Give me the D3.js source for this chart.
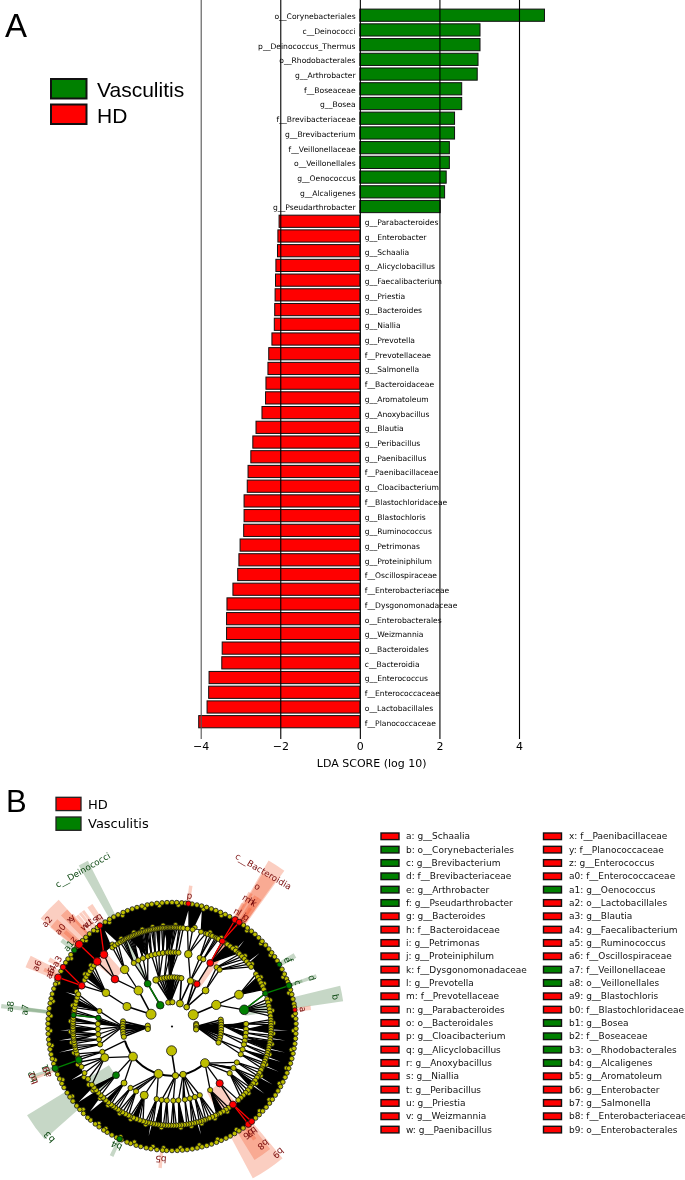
<!DOCTYPE html>
<html><head><meta charset="utf-8">
<script src="https://d3js.org/d3.v7.min.js"></script>
<style>html,body{margin:0;padding:0;background:#fff}svg{display:block;filter:blur(.3px)}text{font-family:"DejaVu Sans"}</style>
</head><body><svg id="c" width="685" height="1180"></svg>
<script>
// ---------- panel A data ----------
const vasculitisTaxa=["o__Corynebacteriales","c__Deinococci","p__Deinococcus_Thermus","o__Rhodobacterales","g__Arthrobacter","f__Boseaceae","g__Bosea","f__Brevibacteriaceae","g__Brevibacterium","f__Veillonellaceae","o__Veillonellales","g__Oenococcus","g__Alcaligenes","g__Pseudarthrobacter"];
const vasculitisScores=[4.64,3.02,3.02,2.97,2.95,2.56,2.56,2.38,2.38,2.25,2.25,2.17,2.13,2.02];
const hdTaxa=["g__Parabacteroides","g__Enterobacter","g__Schaalia","g__Alicyclobacillus","g__Faecalibacterium","g__Priestia","g__Bacteroides","g__Niallia","g__Prevotella","f__Prevotellaceae","g__Salmonella","f__Bacteroidaceae","g__Aromatoleum","g__Anoxybacillus","g__Blautia","g__Peribacillus","g__Paenibacillus","f__Paenibacillaceae","g__Cloacibacterium","f__Blastochloridaceae","g__Blastochloris","g__Ruminococcus","g__Petrimonas","g__Proteiniphilum","f__Oscillospiraceae","f__Enterobacteriaceae","f__Dysgonomonadaceae","o__Enterobacterales","g__Weizmannia","o__Bacteroidales","c__Bacteroidia","g__Enterococcus","f__Enterococcaceae","o__Lactobacillales","f__Planococcaceae"];
const hdScores=[-2.03,-2.06,-2.07,-2.11,-2.12,-2.13,-2.14,-2.15,-2.21,-2.29,-2.31,-2.36,-2.37,-2.46,-2.61,-2.69,-2.74,-2.81,-2.83,-2.91,-2.91,-2.92,-3.01,-3.04,-3.07,-3.19,-3.34,-3.35,-3.35,-3.46,-3.47,-3.79,-3.80,-3.84,-4.05];
const ldaTicks=[-4,-2,0,2,4];
// ---------- panel B data: legend ----------
const cladeLegendLeft=[["a: g__Schaalia","H"],["b: o__Corynebacteriales","V"],["c: g__Brevibacterium","V"],["d: f__Brevibacteriaceae","V"],["e: g__Arthrobacter","V"],["f: g__Pseudarthrobacter","V"],["g: g__Bacteroides","H"],["h: f__Bacteroidaceae","H"],["i: g__Petrimonas","H"],["j: g__Proteiniphilum","H"],["k: f__Dysgonomonadaceae","H"],["l: g__Prevotella","H"],["m: f__Prevotellaceae","H"],["n: g__Parabacteroides","H"],["o: o__Bacteroidales","H"],["p: g__Cloacibacterium","H"],["q: g__Alicyclobacillus","H"],["r: g__Anoxybacillus","H"],["s: g__Niallia","H"],["t: g__Peribacillus","H"],["u: g__Priestia","H"],["v: g__Weizmannia","H"],["w: g__Paenibacillus","H"]];
const cladeLegendRight=[["x: f__Paenibacillaceae","H"],["y: f__Planococcaceae","H"],["z: g__Enterococcus","H"],["a0: f__Enterococcaceae","H"],["a1: g__Oenococcus","V"],["a2: o__Lactobacillales","H"],["a3: g__Blautia","H"],["a4: g__Faecalibacterium","H"],["a5: g__Ruminococcus","H"],["a6: f__Oscillospiraceae","H"],["a7: f__Veillonellaceae","V"],["a8: o__Veillonellales","V"],["a9: g__Blastochloris","H"],["b0: f__Blastochloridaceae","H"],["b1: g__Bosea","V"],["b2: f__Boseaceae","V"],["b3: o__Rhodobacterales","V"],["b4: g__Alcaligenes","V"],["b5: g__Aromatoleum","H"],["b6: g__Enterobacter","H"],["b7: g__Salmonella","H"],["b8: f__Enterobacteriaceae","H"],["b9: o__Enterobacterales","H"]];
// ---------- panel B data: cladogram, angles in degrees clockwise from north ----------
const ringLevels=[0,1,2,3,4];
const phylumClass=[[61,[64]],[-59.6,[-66,-43]],[-29,[-29.6]],[-92,[-84,-87,-90,-93,-96,-99,-102]],[-88,[]],[-96,[]],[181,[176]],[-4,[-19,-15,-12,-9,-6,-3,0,3,6,9]],[-9,[]],[1,[]],[19,[22,11]],[37,[30.4,43,26]],[90,[82,85,88,91,94,97,100,103,106,109]],[84,[]],[87,[]],[94,[]],[97,[]]];
const classOrder=[[-66,[-63]],[-43,[-50.3,-39.7]],[-29.6,[-31,-27,-23,-19]],[-15,[-16,-13,-10,-7]],[-9,[-4,-1]],[-3,[-3,-1,1,3,5]],[22,[12.7,22,25]],[30.4,[31]],[43,[37,40]],[64,[64.6,77]],[88,[88,92,95,98]],[97,[101,104]],[106,[108,112]],[-90,[-78,-83.3,-88,-92,-96,-100,-104]],[-107,[-110]],[-127.6,[-114.8,-131,-139.7]],[-164,[-146,-151,-158,-168]],[176,[-172,-176,179]],[167,[175,170,166,162,158]],[138,[149,140,129,124,119]]];
const orderFamily=[[-63,[-65.7,-62,-60,-58,-56,-54,-52]],[-50.3,[-49,-43.4]],[-39.7,[-37,-35,-33]],[-31,[-31.5,-30,-29,-28]],[-27,[-27,-26,-25,-24,-23]],[-23,[-22,-21,-20]],[-19,[-19,-18,-17,-16]],[-16,[-15,-14,-13]],[-13,[-12,-11,-10]],[-10,[-9,-8,-7]],[-7,[-6,-5,-4]],[-4,[-3,-2.2,-1.4,-.6,.2]],[-1,[1,2,3]],[3,[4,5]],[5,[6.5]],[12.7,[9,12,17,20]],[22,[21,23,24]],[25,[26,27,28]],[31,[30.5,32,34,36,38,40,42]],[37,[43,45,47]],[40,[49,51,53]],[64.6,[58,60,62,64,66,68]],[77,[70.5,74,76,78,80,82,84]],[88,[86,87.5,89]],[92,[90.5,92,93.5]],[95,[95,96.5]],[98,[98,99.5,101]],[101,[102.5,104]],[104,[105.5,107]],[108,[108.5,110]],[112,[111.5,113,115]],[119,[116,118,120]],[124,[121,123,125,127]],[129,[128,130,132,134,136]],[140,[142,138]],[149,[145,147,149,151,153]],[158,[154,156,158,160]],[162,[161,162.5,164]],[166,[165.5,167,168.5]],[170,[170,171.5]],[175,[173,174.5,176]],[179,[177.5,179,180.5]],[-176,[-178,-176.5,-175]],[-172,[-173.5,-172,-170.5]],[-168,[-169,-167.5,-166,-164.5]],[-158,[-163,-161,-159,-157,-155]],[-151,[-154,-152,-150,-148]],[-146,[-147,-145,-143.5]],[-139.7,[-142,-140,-138,-136]],[-131,[-134,-132,-130,-128]],[-114.8,[-126,-122,-118,-114,-111]],[-110,[-109.7,-108,-106]],[-104,[-104,-102.5,-101]],[-100,[-100,-98.5,-97]],[-96,[-96,-94.5,-93]],[-92,[-92,-90.5,-89]],[-88,[-88,-86.5,-85]],[-83.3,[-83.4,-82,-80.5]],[-78,[-79,-77,-75,-73,-71]]];
const genusAngles=[-180,-177.5,-175.6,-173,-170.2,-168,-165.4,-163.2,-160.5,-158.7,-156,-153.4,-151,-148.5,-146.6,-144,-141.8,-139,-137.2,-134.5,-132,-129.8,-127,-124.6,-122.3,-119.5,-117.4,-115,-112.7,-110.6,-107.5,-105.1,-103,-100.6,-98.2,-96,-93.4,-91,-88.7,-86.5,-84,-81.6,-79.2,-77,-74.8,-72.3,-70,-68,-63.5,-59,-57,-54.6,-50,-46.2,-44,-41.7,-39.2,-37,-32.6,-30.2,-28,-25.8,-23.2,-21,-18.7,-16.4,-14,-11.5,-9.4,-7,-4.6,-2.3,0,2.2,4.5,6.3,9.3,11.6,13.8,16.2,18.5,20.7,23,25.4,27.7,35.2,37.4,39.8,42,44.3,46.6,49,51.3,53.5,55.8,58,62.5,65,67.4,69,72.8,75,77.2,79.5,81,84,86.4,88.7,91,93.3,95.6,98,100.2,102.6,105,107.3,109.7,112,114.2,116.6,119,121.3,123.6,126,128.2,130.6,133,135.3,137.6,145,147.3,149.7,152,154.2,156.6,159,161.4,163.7,166,168.3,170.6,173,175.2,177.6];
// nodes slightly inside the rings, where the picture shows staggered columns
const staggerGenus=[-176,-171,-162,-155,-147,-143,-133,-125,-116,-106,-99,-92,-85,-78,-69,-56,-45,-38,-31,-24,-13,-6,3,15,24,38,47,54,66,74,85,92,101,110,118,127,134,148,158,167,176];
const staggerFamily=[-174,-165,-156,-149,-141,-135,-129,-125,-120,-112,-105,-99,-93,-87,-78,-70,-59,-53,-36,-30,-22,-17,-11,-5,2,13,22,29,39,46,52,61,65,75,81,88,94,100,106,112,119,124,131,147,155,163,169,175];
// filled fans: [parent level, parent angle, child angle from, child angle to]
const solidFans=[[0,-4,-8,4],[0,-90,-93,-87],[0,90,86,100],[1,-1,-3,3],[1,90,86,92],[1,-90,-88,-84],[1,88,94,98],[1,-164,-150,-148],[1,138,123,126],[1,167,170,172],[2,-2,-5,1],[2,-20,-26,-18],[2,31,34,42],[2,64.6,60,68],[2,92,88,94],[2,100,98,104],[2,124,124,128],[2,149,149,153],[2,-158,-160,-156],[2,-172,-174,-170],[2,175,173,176],[2,-131,-130,-127],[2,-139.7,-141,-138],[2,-92,-94,-90],[2,-88,-87,-85],[2,-96,-99,-97],[2,-63,-60,-55],[2,-78,-78,-74],[2,108,107,110],[2,-19,-16,-14],[2,-10,-9,-7]];
// [level, angle, node radius, colour key]
const markedNodes=[[0,61,5,"Y"],[0,-59.6,5,"Y"],[0,181,5,"Y"],[0,-29,3.8,"G"],[0,19,3.5,"Y"],[0,37,2.8,"Y"],
[1,-66,4,"Y"],[1,-43,4.4,"Y"],[1,-29.6,3.4,"G"],[1,-19,3.2,"Y"],[1,22,3.2,"Y"],[1,30.4,3.2,"R"],[1,43,3.4,"Y"],[1,64,4.6,"Y"],[1,-127.6,4.4,"Y"],[1,-164,4.4,"Y"],[1,176,3.2,"Y"],[1,167,3.2,"Y"],[1,138,4.4,"Y"],
[2,-63,3.8,"Y"],[2,-39.7,4.2,"Y"],[2,-50.3,3.8,"R"],[2,-114.8,4,"Y"],[2,-131,3.4,"G"],[2,-139.7,3,"Y"],[2,-158,4,"Y"],[2,12.7,3.8,"Y"],[2,31,3.4,"R"],[2,64.6,4.4,"Y"],[2,77,4.8,"G"],[2,-83.3,2.6,"G"],[2,140,3.6,"R"],
[3,-49,3.9,"R"],[3,-43.4,3.9,"R"],[3,-65.7,3.4,"R"],[3,30.5,3,"R"],[3,70.5,2.7,"G"],[3,-83.4,2.6,"G"],[3,-109.7,3.4,"G"],[3,142,3.5,"R"],
[4,-48.5,3.9,"R"],[4,-66.7,3.5,"R"],[4,-61.4,2.8,"R"],[4,-52,2.7,"G"],[4,-35.5,2.8,"R"],[4,7.6,2.6,"R"],[4,30.6,3.2,"R"],[4,32.8,3,"R"],[4,70.7,3,"G"],[4,82.3,2.2,"R"],[4,-109.7,3.2,"G"],[4,-155,2.8,"G"],[4,142,3.2,"R"],[4,140,3,"R"],[4,60,2.4,"G"]];
// [level from, angle from, level to, angle to, colour key]
const cladeLinks=[[0,-29,1,-29.6,"G"],[2,77,3,70.5,"G"],[3,70.5,4,70.7,"G"],[2,-83.3,3,-83.4,"G"],[3,-109.7,4,-109.7,"G"],[3,-49,4,-48.5,"R"],[3,-65.7,4,-66.7,"R"],[3,-65.7,4,-61.4,"R"],[3,-43.4,4,-35.5,"R"],[3,30.5,4,30.6,"R"],[3,30.5,4,32.8,"R"],[2,31,3,30.5,"R"],[3,142,4,142,"R"],[3,142,4,140,"R"]];
// [a, half width, inner radius, outer radius, colour key]
const cladeShades=[[-28.5,1.6,49,186,"G"],[79,2.6,74,173,"G"],[-83.2,.7,74,172,"G"],[-83.4,.8,99,150,"G"],[-109.7,.6,99,150,"G"],[-109,.5,124,136,"G"],[-126.5,5,74,170,"G"],[-155,.8,124,143,"G"],[-52,.9,124,140,"G"],[70.7,.7,99,153,"G"],[70.7,.6,124,138,"G"],[60,1.1,124,142,"G"],
[-46.2,4.4,74,170,"R"],[-48.9,2,99,157,"R"],[-43.4,1.6,99,157,"R"],[-42,.8,99,150,"R"],[-48.5,.8,124,143,"R"],[-40.5,.6,124,146,"R"],[-39,.6,124,146,"R"],[-37.6,.6,124,146,"R"],[-34.8,.6,124,146,"R"],[-33.6,.6,124,146,"R"],[-65.7,2.3,99,158,"R"],[-61.4,.9,124,140,"R"],[-66,.8,124,140,"R"],[-110.6,.5,99,150,"R"],[7.6,.7,124,142,"R"],[33,2.8,49,192,"R"],[33,2.4,74,178,"R"],[30.5,.9,99,155,"R"],[33,.9,99,155,"R"],[34.5,.8,99,155,"R"],[30,.7,124,142,"R"],[33.6,.7,124,142,"R"],[82.3,.9,124,140,"R"],[146,6,74,172,"R"],[144.8,3.5,99,157,"R"],[143.8,.8,124,140,"R"],[184.8,.7,124,142,"R"]];
// [text, a, label radius, colour key]
const cladeLabels=[["c__Deinococci",-29.7,180,"G"],["c__Bacteroidia",30.5,180,"R"],["b",79.8,166,"G"],["d",70.9,148,"G"],["c",70.7,133,"G"],["e",60,133,"G"],["f",60.8,135,"G"],["a",82.5,132,"R"],["a8",-83,163,"G"],["a7",-83.5,148,"G"],["b2",-109.7,148,"G"],["b1",-109,133,"G"],["b0",-110.5,148,"R"],["a9",-110,133,"R"],["b3",-132,165,"G"],["b4",-155,131,"G"],["a1",-52,131,"G"],["a2",-50,163,"R"],["a0",-48.9,148,"R"],["x",-43.8,148,"R"],["y",-42.6,148,"R"],["z",-48.6,132,"R"],["w",-41.3,133,"R"],["v",-40.1,133,"R"],["u",-38.9,133,"R"],["t",-37.7,133,"R"],["s",-35.8,132,"R"],["r",-34.6,132,"R"],["q",-33.4,132,"R"],["a6",-65.7,148,"R"],["a3",-60.5,132,"R"],["a4",-65,133,"R"],["a5",-66.3,133,"R"],["p",7.6,132,"R"],["o",31.4,164,"R"],["m",30.4,148,"R"],["h",32.4,148,"R"],["k",33.6,148,"R"],["i",33.2,148,"R"],["n",29.4,132,"R"],["l",30.8,132,"R"],["j",33,132,"R"],["g",34.2,132,"R"],["b9",140,165,"R"],["b8",142.3,149,"R"],["b7",143,132,"R"],["b6",144.5,132,"R"],["b5",184.8,133,"R"]];
// white gaps in the dense genus fans: [a, half width, inner radius, outer radius]
const fanGaps=[[8,1.3,101,117],[14.5,2,101,119],[-35,2,101,117],[-129,1.3,101,120],[-136,1.2,102,118],[-118,.6,101,114],[92,.3,101,116],[97,.3,101,114],[103,.3,101,116],[108,.35,101,114],[113,.3,101,116],[120,.4,101,116],[126,.35,101,114],[-97,.35,101,114],[-103,.35,101,116],[-92,.3,101,112],[-72,.35,101,112],[50,.4,101,114],[40,.35,101,112],[-168,.35,101,112],[165,.35,101,112]];

// ---------- constants ----------
const RED="#ff0000",GREEN="#008000",YEL="#bfbf00";
const fill={R:RED,G:GREEN,Y:YEL},txtC={R:"#7a0e0e",G:"#0f4a14"},shade={R:"#ee4010",G:"#236323"};
const svg=d3.select("#c");

// ---------- Panel A ----------
const x=d3.scaleLinear().domain([-4,4]).range([200.7,519]);
const allTaxa=vasculitisTaxa.concat(hdTaxa),allScores=vasculitisScores.concat(hdScores);
const y=d3.scalePoint().domain(allTaxa).range([15.2,721.7]);
const gA=svg.append("g");
gA.selectAll("rect.bar").data(allTaxa).join("rect").attr("class","bar")
 .attr("x",(d,i)=>Math.min(x(0),x(allScores[i]))).attr("width",(d,i)=>Math.abs(x(allScores[i])-x(0)))
 .attr("y",d=>y(d)-6.1).attr("height",12.2)
 .attr("fill",(d,i)=>allScores[i]>0?GREEN:RED).attr("stroke","#111").attr("stroke-width",1);
const ax=d3.axisBottom(x).tickValues(ldaTicks).tickSize(-739).tickPadding(3);
const gx=gA.append("g").attr("transform","translate(0,739)").call(ax);
gx.select(".domain").remove();
gx.selectAll(".tick line").attr("stroke",d=>d===-4?"#555":"#000").attr("stroke-width",1.1);
gx.selectAll(".tick text").attr("font-size",11).attr("font-family","DejaVu Sans").attr("fill","#000");
gA.append("text").attr("x",371.7).attr("y",766.5).attr("text-anchor","middle").attr("font-size",11).text("LDA SCORE (log 10)");
gA.selectAll("text.tx").data(allTaxa).join("text").attr("class","tx")
 .attr("x",(d,i)=>allScores[i]>0?355.6:364.8).attr("y",d=>y(d)+1.4)
 .attr("dominant-baseline","central").attr("text-anchor",(d,i)=>allScores[i]>0?"end":"start")
 .attr("font-size",7.6).text(d=>d);
svg.append("text").attr("x",5).attr("y",37).attr("font-size",33).style("font-family","Liberation Sans").text("A");
[["Vasculitis",GREEN,79],["HD",RED,104.5]].forEach(([t,c,yy])=>{
 svg.append("rect").attr("x",51).attr("y",yy).attr("width",35.5).attr("height",19.5).attr("fill",c).attr("stroke","#111").attr("stroke-width",2);
 svg.append("text").attr("x",97).attr("y",yy+18).attr("font-size",21).style("font-family","Liberation Sans").text(t);
});

// ---------- Panel B ----------
svg.append("text").attr("x",6).attr("y",812).attr("font-size",31).style("font-family","Liberation Sans").text("B");
[["HD",RED,797.3],["Vasculitis",GREEN,817]].forEach(([t,c,yy])=>{
 svg.append("rect").attr("x",56).attr("y",yy).attr("width",25).attr("height",13.3).attr("fill",c).attr("stroke","#222").attr("stroke-width",1.3);
 svg.append("text").attr("x",88).attr("y",yy+11.3).attr("font-size",13).text(t);
});
const rows=d3.scaleLinear().domain([0,22]).range([836.3,1129.6]);
[[cladeLegendLeft,381,406],[cladeLegendRight,543.5,569]].forEach(([list,rx,tx])=>{
 const g=svg.append("g");
 g.selectAll("rect").data(list).join("rect").attr("x",rx).attr("y",(d,i)=>rows(i)-3.3).attr("width",18).attr("height",6.6)
  .attr("fill",d=>d[1]==="H"?RED:GREEN).attr("stroke","#111").attr("stroke-width",1.4);
 g.selectAll("text").data(list).join("text").attr("x",tx).attr("y",(d,i)=>rows(i)).attr("dominant-baseline","central")
  .attr("font-size",9).attr("fill","#111").text(d=>d[0]);
});

const ring=d3.scaleLinear().domain([0,4]).range([24.3,124]);
const rad=d3.scaleLinear().domain([0,360]).range([0,2*Math.PI]);
const P=(r,a)=>[r*Math.sin(rad(a)),-r*Math.cos(rad(a))];
const g=svg.append("g").attr("transform","translate(172,1026.5)");
const arc=d3.arc();
const seg=(a,h,r0,r1)=>arc({innerRadius:r0,outerRadius:r1,startAngle:rad(a-h),endAngle:rad(a+h)});
// pale shades
g.selectAll("path.sh").data(cladeShades).join("path").attr("class","sh")
 .attr("d",d=>seg(d[0],d[1],d[2],d[3])).attr("fill",d=>shade[d[4]]).attr("fill-opacity",.26);
// dense genus band
g.append("path").attr("d",arc({innerRadius:ring(3)+1,outerRadius:ring(4),startAngle:0,endAngle:2*Math.PI})).attr("fill","#000");
g.selectAll("path.gap").data(fanGaps).join("path").attr("class","gap")
 .attr("d",d=>{const a=P(d[2],d[0]-d[1]),b=P(d[2],d[0]+d[1]),c=P(d[3],d[0]);return "M"+a+"L"+c+"L"+b+"Z";}).attr("fill","#fff");
// fans
g.append("g").selectAll("path").data(solidFans).join("path")
 .attr("d",d=>"M"+P(ring(d[0]),d[1])+"L"+P(ring(d[0]+1),d[2])+"L"+P(ring(d[0]+1),d[3])+"Z").attr("fill","#000");
// links
const drawLinks=(data,lv,w)=>{
 const pairs=data.flatMap(([p,ch])=>ch.map(c=>[p,c]));
 g.append("g").selectAll("line").data(pairs).join("line")
  .attr("x1",d=>P(ring(lv),d[0])[0]).attr("y1",d=>P(ring(lv),d[0])[1])
  .attr("x2",d=>P(ring(lv+1),d[1])[0]).attr("y2",d=>P(ring(lv+1),d[1])[1])
  .attr("stroke","#000").attr("stroke-width",w);
};
drawLinks(phylumClass,0,1.6);drawLinks(classOrder,1,1.3);drawLinks(orderFamily,2,1.3);
g.append("path").attr("d",arc({innerRadius:ring(1)-1,outerRadius:ring(1)+1,startAngle:rad(138),endAngle:rad(253)})).attr("fill","#000");
g.append("g").selectAll("line").data(cladeLinks).join("line")
 .attr("x1",d=>P(ring(d[0]),d[1])[0]).attr("y1",d=>P(ring(d[0]),d[1])[1])
 .attr("x2",d=>P(ring(d[2]),d[3])[0]).attr("y2",d=>P(ring(d[2]),d[3])[1])
 .attr("stroke",d=>fill[d[4]]).attr("stroke-width",1.3);
// nodes
const small=[[].concat(phylumClass.map(d=>d[0])),[],[],[],genusAngles];
phylumClass.forEach(d=>small[1].push(...d[1]));classOrder.forEach(d=>small[2].push(...d[1]));orderFamily.forEach(d=>small[3].push(...d[1]));
const sizes=[2.6,2.6,2.6,2.5,2.3];
const nodes=ringLevels.flatMap(l=>small[l].map(a=>[l,a,sizes[l],"Y"]));
const staggered=staggerGenus.map(a=>[3.9,a,2.2,"Y"]).concat(staggerFamily.map(a=>[3.1,a,2.4,"Y"]));
const drawNodes=list=>g.append("g").selectAll("circle").data(list).join("circle")
 .attr("cx",d=>P(ring(d[0]),d[1])[0]).attr("cy",d=>P(ring(d[0]),d[1])[1]).attr("r",d=>d[2])
 .attr("fill",d=>fill[d[3]]).attr("stroke","#111").attr("stroke-width",.8);
drawNodes(staggered);drawNodes(nodes);drawNodes(markedNodes);
g.append("circle").attr("r",1.1).attr("fill","#111");
// labels
g.selectAll("text.cl").data(cladeLabels).join("text").attr("class","cl")
 .attr("transform",d=>{const p=P(d[2],d[1]);return `translate(${p[0]},${p[1]}) rotate(${d[1]})`;})
 .attr("text-anchor","middle").attr("dominant-baseline","central")
 .attr("font-size",d=>d[0].length>3?8.8:9).attr("fill",d=>txtC[d[3]]).text(d=>d[0]);
</script></body></html>
